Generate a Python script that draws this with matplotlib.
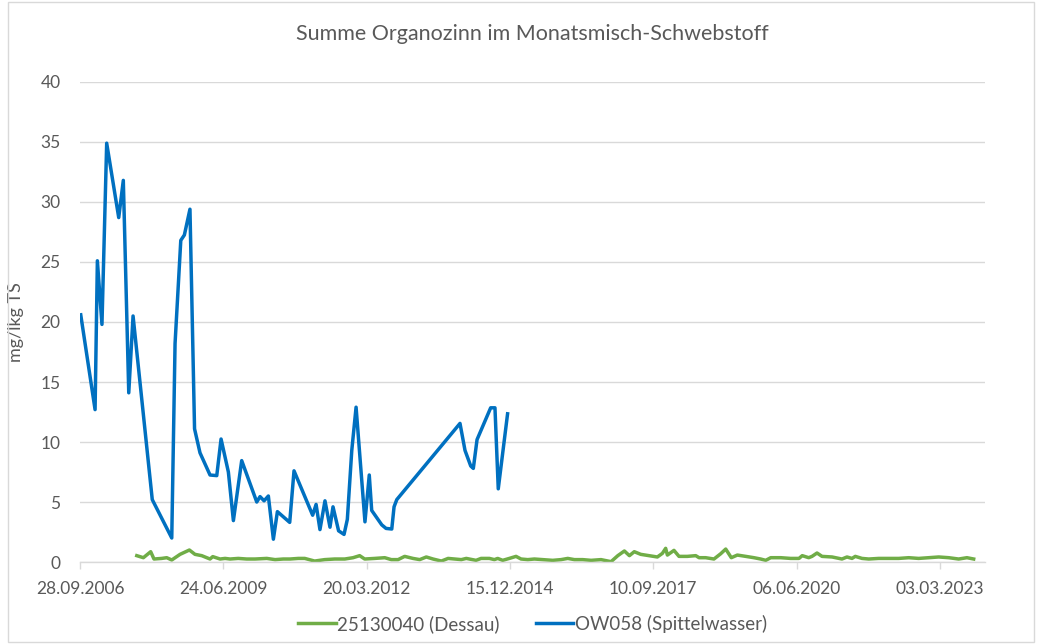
#!/usr/bin/env python3
"""
Summe Organozinn im Monatsmisch-Schwebstoff - Dessau vs. Spittelwasser
"""

import numpy as np
import matplotlib
matplotlib.use("Agg")
import matplotlib.pyplot as plt
import matplotlib.dates as mdates
from matplotlib.patches import Rectangle

# day offsets relative to 28.09.2006, values in mg/kg TS
base_date = np.datetime64("2006-09-28")

dessau_days = [396, 442, 493, 516, 570, 605, 640, 698, 763, 802, 849, 907, 926, 977,
               1012, 1047, 1104, 1163, 1221, 1303, 1361, 1418, 1465, 1523, 1568, 1637,
               1707, 1777, 1847, 1905, 1951, 1986, 2056, 2126, 2172, 2219, 2265, 2323,
               2370, 2416, 2463, 2521, 2568, 2614, 2660, 2695, 2763, 2798, 2856, 2891,
               2914, 2949, 2995, 3042, 3077, 3124, 3170, 3228, 3298, 3356, 3403, 3449,
               3507, 3566, 3635, 3705, 3752, 3798, 3833, 3867, 3912, 3970, 4028, 4063,
               4086, 4098, 4144, 4179, 4237, 4296, 4319, 4365, 4423, 4470, 4505, 4544,
               4586, 4645, 4702, 4749, 4784, 4819, 4889, 4958, 5016, 5039, 5084, 5107,
               5142, 5177, 5247, 5316, 5351, 5386, 5409, 5456, 5503, 5572, 5642, 5712,
               5782, 5851, 5921, 5991, 6061, 6130, 6188, 6235]
dessau_vals = [0.53, 0.36, 0.86, 0.25, 0.30, 0.36, 0.17, 0.64, 1.00, 0.64, 0.53, 0.25,
               0.45, 0.25, 0.30, 0.25, 0.30, 0.25, 0.25, 0.30, 0.20, 0.25, 0.25, 0.30,
               0.30, 0.08, 0.20, 0.25, 0.25, 0.36, 0.53, 0.25, 0.30, 0.36, 0.20, 0.20,
               0.47, 0.30, 0.20, 0.42, 0.25, 0.08, 0.30, 0.25, 0.20, 0.30, 0.14, 0.30,
               0.30, 0.20, 0.30, 0.14, 0.30, 0.47, 0.25, 0.20, 0.25, 0.20, 0.14, 0.20,
               0.30, 0.20, 0.20, 0.14, 0.20, 0.03, 0.53, 0.92, 0.53, 0.86, 0.64, 0.53,
               0.42, 0.72, 1.14, 0.58, 0.97, 0.47, 0.47, 0.53, 0.36, 0.36, 0.25, 0.69,
               1.08, 0.36, 0.58, 0.47, 0.36, 0.25, 0.14, 0.36, 0.36, 0.30, 0.30, 0.53,
               0.36, 0.47, 0.75, 0.47, 0.42, 0.25, 0.42, 0.30, 0.47, 0.30, 0.25, 0.30,
               0.30, 0.30, 0.36, 0.30, 0.36, 0.42, 0.36, 0.25, 0.36, 0.25]

spittel_days = [5, 105, 121, 153, 186, 270, 302, 340, 370, 504, 640, 663, 703, 728, 767,
                799, 837, 907, 954, 984, 1035, 1070, 1128, 1233, 1256, 1284, 1314, 1349,
                1377, 1463, 1493, 1623, 1647, 1674, 1709, 1744, 1765, 1804, 1842, 1865,
                1896, 1926, 1988, 2018, 2035, 2105, 2135, 2175, 2191, 2210, 2651, 2686,
                2726, 2744, 2770, 2865, 2895, 2918, 2983]
spittel_vals = [20.6, 12.7, 25.1, 19.8, 34.9, 28.7, 31.8, 14.1, 20.5, 5.2, 2.0, 18.2,
                26.8, 27.25, 29.4, 11.1, 9.1, 7.25, 7.2, 10.25, 7.5, 3.45, 8.45, 5.0,
                5.45, 5.1, 5.5, 1.9, 4.2, 3.3, 7.6, 3.9, 4.8, 2.7, 5.1, 2.9, 4.6, 2.6,
                2.3, 3.55, 9.3, 12.9, 3.35, 7.25, 4.3, 3.1, 2.8, 2.75, 4.6, 5.2, 11.55,
                9.3, 8.0, 7.8, 10.2, 12.85, 12.85, 6.1, 12.35]

series_labels = ["25130040 (Dessau)", "OW058 (Spittelwasser)"]
title_text = "Summe Organozinn im Monatsmisch-Schwebstoff"
ylabel_text = "mg/lkg TS"
y_ticks = [0, 5, 10, 15, 20, 25, 30, 35, 40]
tick_step_days = 1000
axis_end_days = 6314


def to_dates(offsets):
    return (base_date + np.array(offsets, dtype="timedelta64[D]")).astype("datetime64[D]").astype(object)


plt.rcParams['font.family'] = ['Lato', 'DejaVu Sans']
text_gray = '#595959'
grid_gray = '#d9d9d9'

fig = plt.figure(figsize=(10.42, 6.44), dpi=100)
ax = fig.add_axes([0.0768, 0.1273, 0.8685, 0.7454])

ax.plot(to_dates(dessau_days), dessau_vals, color='#70AD47', linewidth=2.5,
        label=series_labels[0], solid_joinstyle='round')
ax.plot(to_dates(spittel_days), spittel_vals, color='#0070C0', linewidth=2.5,
        label=series_labels[1], solid_joinstyle='round')

start = mdates.date2num(to_dates([0])[0])
ax.set_xlim(start, start + axis_end_days)
ax.set_ylim(0, 40)
ax.set_yticks(y_ticks)

tick_pos = [start + k * tick_step_days for k in range(7)]
ax.xaxis.set_major_locator(matplotlib.ticker.FixedLocator(tick_pos))
ax.xaxis.set_major_formatter(mdates.DateFormatter('%d.%m.%Y'))

ax.grid(axis='y', color=grid_gray, linewidth=1.0)
ax.set_axisbelow(True)
for side in ['top', 'right', 'left']:
    ax.spines[side].set_visible(False)
ax.spines['bottom'].set_color(grid_gray)
ax.spines['bottom'].set_linewidth(1.0)
ax.tick_params(axis='x', colors=grid_gray, length=5, width=1.0, labelcolor=text_gray,
               labelsize=12.5, pad=9)
ax.tick_params(axis='y', length=0, labelcolor=text_gray, labelsize=12.5, pad=14)

ax.set_title(title_text, fontsize=15.5, color=text_gray, pad=30)
ax.set_ylabel(ylabel_text, fontsize=13, color=text_gray, labelpad=12)

ax.legend(loc='upper center', bbox_to_anchor=(0.5, -0.075), ncol=2, frameon=False,
          fontsize=13.5, labelcolor=text_gray, handlelength=2.0, handletextpad=0.1,
          columnspacing=1.9)

fig.patches.append(Rectangle((0.008, 0.003), 0.984, 0.994, transform=fig.transFigure,
                             fill=False, edgecolor=grid_gray, linewidth=1.0))

fig.savefig('out.png', dpi=100)
